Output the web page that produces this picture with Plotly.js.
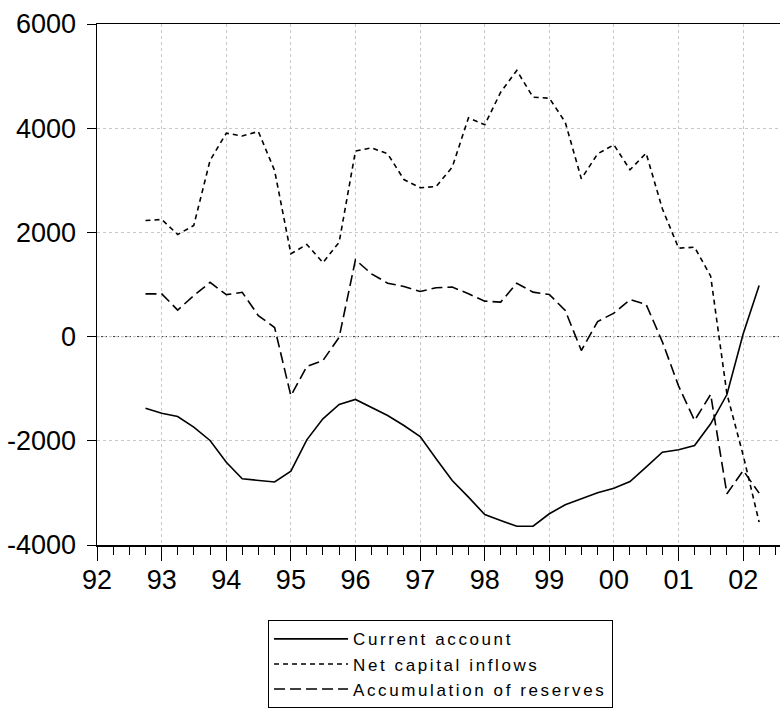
<!DOCTYPE html>
<html>
<head>
<meta charset="utf-8">
<script src="https://cdn.plot.ly/plotly-3.0.1.min.js"></script>
<style>
html,body{margin:0;padding:0;background:#fff;}
#chart{width:780px;height:711px;}
.legendtext{letter-spacing:2.6px;}
</style>
</head>
<body>
<div id="chart"></div>
<script>
// Quarterly observations, 1992Q4 - 2002Q2
var quarters = ["1992Q4",
  "1993Q1","1993Q2","1993Q3","1993Q4",
  "1994Q1","1994Q2","1994Q3","1994Q4",
  "1995Q1","1995Q2","1995Q3","1995Q4",
  "1996Q1","1996Q2","1996Q3","1996Q4",
  "1997Q1","1997Q2","1997Q3","1997Q4",
  "1998Q1","1998Q2","1998Q3","1998Q4",
  "1999Q1","1999Q2","1999Q3","1999Q4",
  "2000Q1","2000Q2","2000Q3","2000Q4",
  "2001Q1","2001Q2","2001Q3","2001Q4",
  "2002Q1","2002Q2"];

var currentAccount = [-1374,
  -1470,-1533,-1739,-1994,
  -2411,-2729,-2762,-2790,
  -2583,-1981,-1578,-1303,
  -1207,-1355,-1514,-1706,
  -1917,-2345,-2762,-3082,
  -3415,-3530,-3639,-3639,
  -3400,-3227,-3113,-2998,
  -2910,-2781,-2506,-2218,
  -2173,-2090,-1674,-1112,
  53,980];

var netCapitalInflows = [2228,
  2247,1960,2132,3380,
  3905,3850,3937,3188,
  1590,1768,1420,1812,
  3560,3624,3508,3015,
  2856,2881,3251,4199,
  4065,4691,5107,4595,
  4576,4115,3029,3508,
  3681,3202,3521,2453,
  1697,1716,1160,-1100,
  -2280,-3560];

var reserves = [820,
  820,510,785,1041,
  805,850,403,175,
  -1136,-575,-460,-12,
  1474,1205,1025,962,
  866,937,950,822,
  681,662,1025,853,
  808,501,-267,290,
  450,710,620,-100,
  -950,-1610,-1110,-3017,
  -2570,-3005];

var seriesNames = ["Current account", "Net capital inflows", "Accumulation of reserves"];
var yTickVals = [-4000, -2000, 0, 2000, 4000, 6000];
var yTickText = ["-4000", "-2000", "0", "2000", "4000", "6000"];

function quarterToDate(q) {
  var y = q.slice(0, 4);
  var n = parseInt(q.slice(5), 10);
  var m = (n - 1) * 3 + 1;
  return y + "-" + (m < 10 ? "0" + m : m) + "-01";
}
var xDates = quarters.map(quarterToDate);

var lineW = 1.6;
var traces = [
  {x: xDates, y: currentAccount, name: seriesNames[0], type: "scatter", mode: "lines",
   line: {color: "#000", width: lineW, dash: "solid"}},
  {x: xDates, y: netCapitalInflows, name: seriesNames[1], type: "scatter", mode: "lines",
   line: {color: "#000", width: lineW, dash: "5px,4px"}},
  {x: xDates, y: reserves, name: seriesNames[2], type: "scatter", mode: "lines",
   line: {color: "#000", width: lineW, dash: "11px,5px"}}
];

var tickFont = {family: "Liberation Sans, Arial, sans-serif", size: 27, color: "#000"};

var layout = {
  width: 780, height: 711,
  margin: {l: 97, r: 0, t: 24, b: 166, pad: 0},
  paper_bgcolor: "#fff", plot_bgcolor: "#fff",
  showlegend: true,
  legend: {
    x: 0.2504, y: -0.1445, xanchor: "left", yanchor: "top",
    orientation: "v",
    bgcolor: "#fff", bordercolor: "#000", borderwidth: 1,
    font: {family: "Liberation Sans, Arial, sans-serif", size: 17, color: "#000"},
    itemwidth: 74, traceorder: "normal"
  },
  xaxis: {
    type: "date",
    range: ["1992-01-01", "2002-07-28"],
    tickmode: "linear", tick0: "1992-01-01", dtick: "M12",
    tickformat: "%y",
    ticks: "outside", ticklen: 14, tickwidth: 1, tickcolor: "#000",
    ticklabelstandoff: -4,
    minor: {dtick: "M3", tick0: "1992-01-01", ticks: "outside", ticklen: 8, tickwidth: 1, tickcolor: "#000", showgrid: false},
    showline: true, linecolor: "#000", linewidth: 1.5, mirror: true,
    showgrid: true, gridcolor: "#c8c8c8", gridwidth: 1, griddash: "3px,3px",
    zeroline: false,
    tickfont: tickFont
  },
  yaxis: {
    range: [-4000, 6000],
    tickmode: "array", tickvals: yTickVals, ticktext: yTickText,
    ticks: "outside", ticklen: 9, tickwidth: 1, tickcolor: "#000",
    ticklabelstandoff: 5,
    showline: true, linecolor: "#000", linewidth: 1.5,
    showgrid: true, gridcolor: "#c8c8c8", gridwidth: 1, griddash: "3px,3px",
    zeroline: false,
    tickfont: tickFont
  },
  shapes: [
    {type: "line", xref: "paper", x0: 0, x1: 1, yref: "y", y0: 0, y1: 0,
     line: {color: "#333", width: 1, dash: "2px,2px"}, layer: "below"}
  ]
};

Plotly.newPlot("chart", traces, layout, {displayModeBar: false, staticPlot: true});
</script>
</body>
</html>
